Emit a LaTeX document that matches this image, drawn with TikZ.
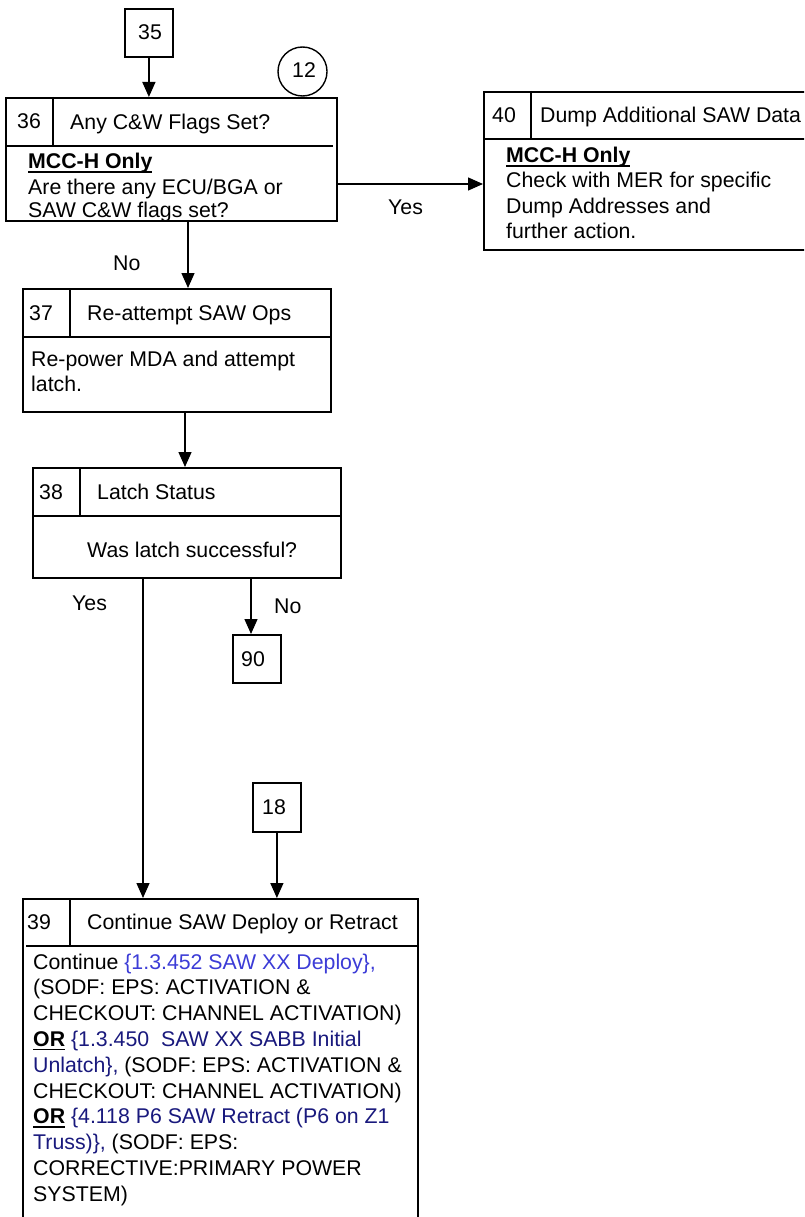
\documentclass[tikz,border=0pt]{standalone}
\usepackage{fontspec}
\setmainfont{Liberation Sans}
\usetikzlibrary{arrows.meta}
\definecolor{linkA}{RGB}{60,60,215}
\definecolor{linkB}{RGB}{25,25,125}
\newcommand\myul[1]{\setbox0=\hbox{#1}\rlap{\rule[-4pt]{\wd0}{1.6pt}}\box0\relax}
\begin{document}
\begin{tikzpicture}[x=1pt,y=-1pt,
  box/.style={draw,line width=1.8pt,rectangle,inner sep=0pt,anchor=north west},
  txt/.style={anchor=base west,inner sep=0pt,font=\fontsize{21.3}{25.8}\selectfont},
  arr/.style={line width=1.4pt,-{Triangle[width=13pt,length=15pt]}},
  div/.style={line width=1.8pt}]
\clip (0,0) rectangle (804,1217);
\fill[white] (0,0) rectangle (804,1217);

% boxes
\node[box,minimum width=48pt,minimum height=48pt] (b35) at (124,8) {};
\node[box,minimum width=331pt,minimum height=123pt] (b36) at (5,97) {};
\node[box,minimum width=340pt,minimum height=158pt] (b40) at (483,91) {};
\node[box,minimum width=308pt,minimum height=123pt] (b37) at (22,288) {};
\node[box,minimum width=308pt,minimum height=110pt] (b38) at (32,467) {};
\node[box,minimum width=48pt,minimum height=48pt] (b90) at (232,634) {};
\node[box,minimum width=48pt,minimum height=49pt] (b18) at (252,782) {};
\node[box,minimum width=395pt,minimum height=340pt] (b39) at (22,898) {};
\node[draw,circle,line width=1.4pt,minimum size=49pt,inner sep=0pt] (c12) at (302.5,71.5) {};

% dividers
\draw[div] (5,146) -- (333,146);  \draw[div] (53,97) -- (53,146);
\draw[div] (483,139) -- (823,139); \draw[div] (531,91) -- (531,139);
\draw[div] (22,337) -- (331,337);  \draw[div] (70,288) -- (70,337);
\draw[div] (32,516) -- (340,516);  \draw[div] (80,467) -- (80,516);
\draw[div] (26,946) -- (417,946);  \draw[div] (70,898) -- (70,946);

% small box texts
\node[txt] (t35) at (138,40) {35};
\node[txt] (t12) at (292,78) {12};
\node[txt] (t90) at (241,666) {90};
\node[txt] (t18) at (262,814) {18};

% box 36
\node[txt] (h36n) at (17,129) {36};
\node[txt] (h36t) at (70,130) {Any C\&W Flags Set?};
\node[txt] (b36a) at (28,169) {\myul{\textbf{MCC-H Only}}};
\node[txt] (b36b) at (28,194) {Are there any ECU/BGA or};
\node[txt] (b36c) at (28,217) {SAW C\&W flags set?};

% box 40
\node[txt] (h40n) at (492,123) {40};
\node[txt] (h40t) at (540,123) {Dump Additional SAW Data};
\node[txt] (b40a) at (506,163) {\myul{\textbf{MCC-H Only}}};
\node[txt] (b40b) at (506,188) {Check with MER for specific};
\node[txt] (b40c) at (506,213) {Dump Addresses and};
\node[txt] (b40d) at (506,238) {further action.};

% box 37
\node[txt] (h37n) at (29,320) {37};
\node[txt] (h37t) at (87,320) {Re-attempt SAW Ops};
\node[txt] (b37a) at (31,366) {Re-power MDA and attempt};
\node[txt] (b37b) at (31,391) {latch.};

% box 38
\node[txt] (h38n) at (39,499) {38};
\node[txt] (h38t) at (97,499) {Latch Status};
\node[txt] (b38a) at (87,557) {Was latch successful?};

% box 39
\node[txt] (h39n) at (27,929) {39};
\node[txt] (h39t) at (87,929) {Continue SAW Deploy or Retract};
\node[txt] (l1) at (33,969) {Continue \textcolor{linkA}{\{1.3.452 SAW XX Deploy\},}};
\node[txt] (l2) at (33,994.8) {(SODF: EPS: ACTIVATION \&};
\node[txt] (l3) at (33,1020.6) {CHECKOUT: CHANNEL ACTIVATION)};
\node[txt] (l4) at (33,1046.4) {\myul{\textbf{OR}} \textcolor{linkB}{\{1.3.450\ \ SAW XX SABB Initial}};
\node[txt] (l5) at (33,1072.2) {\textcolor{linkB}{Unlatch\},} (SODF: EPS: ACTIVATION \&};
\node[txt] (l6) at (33,1098) {CHECKOUT: CHANNEL ACTIVATION)};
\node[txt] (l7) at (33,1123.8) {\myul{\textbf{OR}} \textcolor{linkB}{\{4.118 P6 SAW Retract (P6 on Z1}};
\node[txt] (l8) at (33,1149.6) {\textcolor{linkB}{Truss)\},} (SODF: EPS:};
\node[txt] (l9) at (33,1175.4) {CORRECTIVE:PRIMARY POWER};
\node[txt] (l10) at (33,1201.2) {SYSTEM)};

% connectors
\coordinate (yy) at (0,184);
\coordinate (x37) at (188,0);
\coordinate (x38) at (185,0);
\coordinate (x39) at (143,0);
\coordinate (x90) at (251,0);
\draw[arr] (b35.south) -- (b35.south |- b36.north);
\draw[arr] (b36.east |- yy) -- (b40.west |- yy);
\draw[arr] (b36.south -| x37) -- (b37.north -| x37);
\draw[arr] (b37.south -| x38) -- (b38.north -| x38);
\draw[arr] (b38.south -| x39) -- (b39.north -| x39);
\draw[arr] (b38.south -| x90) -- (b90.north -| x90);
\draw[arr] (b18.south) -- (b18.south |- b39.north);

% labels
\node[txt] (yes1) at (388,214) {Yes};
\node[txt] (no1) at (113,270) {No};
\node[txt] (yes2) at (72,610) {Yes};
\node[txt] (no2) at (274,613) {No};
\end{tikzpicture}
\end{document}
